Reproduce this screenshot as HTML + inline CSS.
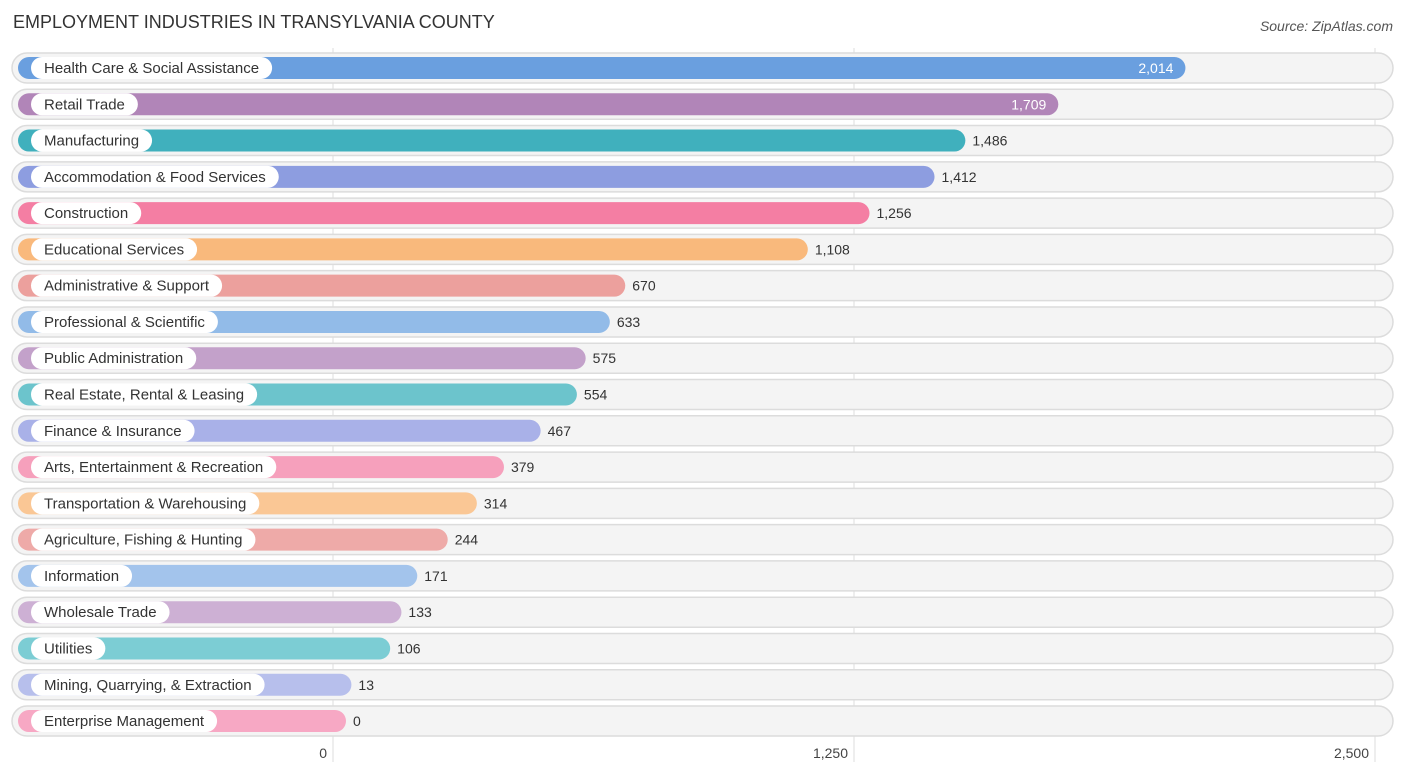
<!DOCTYPE html>
<html><head><meta charset="utf-8"><style>
body{margin:0;background:#fff;font-family:"Liberation Sans",sans-serif;}
svg text{font-family:"Liberation Sans",sans-serif;}
</style></head><body>
<svg id="c" width="1406" height="776" xmlns="http://www.w3.org/2000/svg">
<text x="13" y="28" font-size="18" fill="#333">EMPLOYMENT INDUSTRIES IN TRANSYLVANIA COUNTY</text>
<text x="1393" y="31" font-size="14" fill="#555" font-style="italic" text-anchor="end">Source: ZipAtlas.com</text>
<g id="grid"></g><g id="rows"></g><g id="ticks"></g>
</svg>
<script>
const categories=["Health Care & Social Assistance","Retail Trade","Manufacturing","Accommodation & Food Services","Construction","Educational Services","Administrative & Support","Professional & Scientific","Public Administration","Real Estate, Rental & Leasing","Finance & Insurance","Arts, Entertainment & Recreation","Transportation & Warehousing","Agriculture, Fishing & Hunting","Information","Wholesale Trade","Utilities","Mining, Quarrying, & Extraction","Enterprise Management"];
const values=[2014,1709,1486,1412,1256,1108,670,633,575,554,467,379,314,244,171,133,106,13,0];
const colors=["#6a9fdf","#b185b8","#40b0bd","#8d9de0","#f47ea3","#f9b97c","#eca09d","#92bbe8","#c3a1ca","#6cc4cc","#a9b1e8","#f6a0bc","#fac795","#eeaaa8","#a3c4ec","#cdb0d4","#7ccdd4","#b7bfec","#f7a8c4"];
const tickValues=[0,1250,2500];
const tickLabels=["0","1,250","2,500"];
const NS="http://www.w3.org/2000/svg";
const x0=333,scale=(1375-333)/2500;
function gx(v){return x0+v*scale;}
function barEnd(v){return 346+v*scale;}
function ry(i){return 68+i*36.28;}
function mk(t,a,p){const e=document.createElementNS(NS,t);for(const k in a)e.setAttribute(k,a[k]);p.appendChild(e);return e;}
const grid=document.getElementById('grid'),rows=document.getElementById('rows'),ticks=document.getElementById('ticks');
tickValues.forEach((v,i)=>{
 const l=mk('line',{x1:gx(v),x2:gx(v),y1:48,y2:762,stroke:'#ddd','stroke-width':1},grid);
 
 
 const t=mk('text',{x:gx(v)-6,y:758,'font-size':14,fill:'#444','text-anchor':'end'},ticks);
 t.textContent=tickLabels[i];
 
 
});
categories.forEach((c,i)=>{
 const y=ry(i);
 const g=mk('g',{},rows);
 
 
 const bg=mk('rect',{x:12,y:y-15,width:1381,height:30,rx:15,fill:'#f4f4f4',stroke:'#dcdcdc','stroke-width':1.5},g);
 
 
 const e=barEnd(values[i]);
 const b=mk('rect',{x:18,y:y-11,width:e-18,height:22,rx:11,fill:colors[i]},g);
 
 
 const lt=mk('text',{x:44,y:y+5,'font-size':15,fill:'#333'},g);
 lt.textContent=c;
 
 
 const w=lt.getComputedTextLength();
 const pill=mk('rect',{x:31,y:y-11,width:w+26,height:22,rx:11,fill:'#fff'},g);
 
 
 g.insertBefore(pill,lt);
 const inside=values[i]>1600;
 const vt=mk('text',{x:inside?e-12:e+7,y:y+5,'font-size':14,fill:inside?'#fff':'#333','text-anchor':inside?'end':'start'},g);
 vt.textContent=values[i].toLocaleString('en-US');
 
 
});
</script>
</body></html>
